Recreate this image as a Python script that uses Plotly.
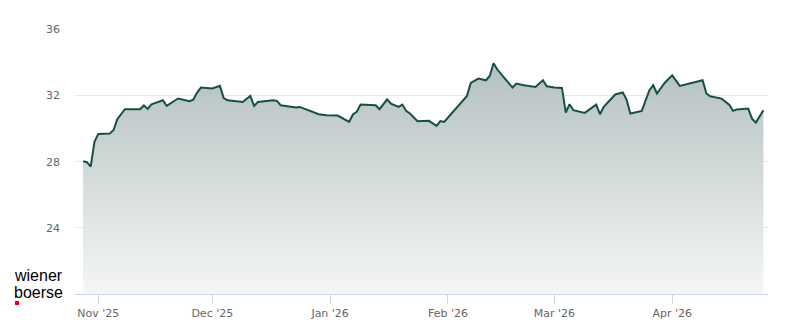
import plotly.graph_objects as go

dates = [
    "2025-10-28", "2025-10-29", "2025-10-30", "2025-10-31", "2025-11-01",
    "2025-11-04", "2025-11-05", "2025-11-06", "2025-11-08", "2025-11-12",
    "2025-11-13", "2025-11-14", "2025-11-15", "2025-11-18", "2025-11-19",
    "2025-11-20", "2025-11-22", "2025-11-25", "2025-11-26", "2025-11-27",
    "2025-11-28", "2025-12-01", "2025-12-03", "2025-12-04", "2025-12-05",
    "2025-12-09", "2025-12-11", "2025-12-12", "2025-12-13", "2025-12-17",
    "2025-12-18", "2025-12-19", "2025-12-23", "2025-12-24", "2025-12-29",
    "2025-12-31", "2026-01-03", "2026-01-06", "2026-01-07", "2026-01-08",
    "2026-01-09", "2026-01-13", "2026-01-14", "2026-01-16", "2026-01-17",
    "2026-01-19", "2026-01-20", "2026-01-21", "2026-01-22", "2026-01-24",
    "2026-01-27", "2026-01-29", "2026-01-30", "2026-01-31", "2026-02-02",
    "2026-02-04", "2026-02-06", "2026-02-07", "2026-02-09", "2026-02-11",
    "2026-02-12", "2026-02-13", "2026-02-14", "2026-02-16", "2026-02-18",
    "2026-02-19", "2026-02-21", "2026-02-24", "2026-02-26", "2026-02-27",
    "2026-03-01", "2026-03-03", "2026-03-04", "2026-03-05", "2026-03-06",
    "2026-03-09", "2026-03-12", "2026-03-13", "2026-03-14", "2026-03-17",
    "2026-03-19", "2026-03-20", "2026-03-21", "2026-03-24", "2026-03-26",
    "2026-03-27", "2026-03-28", "2026-03-30", "2026-04-01", "2026-04-03",
    "2026-04-07", "2026-04-09", "2026-04-10", "2026-04-11", "2026-04-14",
    "2026-04-16", "2026-04-17", "2026-04-18", "2026-04-21", "2026-04-22",
    "2026-04-23", "2026-04-25",
]

prices = [
    28.03, 27.97, 27.70, 29.20, 29.68,
    29.70, 29.90, 30.57, 31.17, 31.17,
    31.40, 31.19, 31.47, 31.71, 31.37,
    31.51, 31.82, 31.65, 31.75, 32.18,
    32.48, 32.42, 32.58, 31.85, 31.71,
    31.61, 31.97, 31.37, 31.61, 31.71,
    31.67, 31.41, 31.27, 31.31, 30.87,
    30.81, 30.79, 30.40, 30.85, 31.01,
    31.45, 31.41, 31.17, 31.77, 31.51,
    31.31, 31.45, 31.07, 30.91, 30.45,
    30.47, 30.16, 30.45, 30.40, 30.91,
    31.45, 31.97, 32.76, 33.02, 32.92,
    33.18, 33.95, 33.57, 33.02, 32.48,
    32.72, 32.62, 32.52, 32.92, 32.56,
    32.48, 32.46, 30.97, 31.47, 31.11,
    30.95, 31.45, 30.87, 31.31, 32.06,
    32.18, 31.75, 30.91, 31.07, 32.32,
    32.62, 32.12, 32.76, 33.22, 32.58,
    32.78, 32.92, 32.12, 31.95, 31.81,
    31.45, 31.07, 31.15, 31.21, 30.60,
    30.36, 31.11,
]

tick_dates = ["2025-11-01", "2025-12-01", "2026-01-01", "2026-02-01", "2026-03-01", "2026-04-01"]
tick_labels = ["Nov '25", "Dec '25", "Jan '26", "Feb '26", "Mar '26", "Apr '26"]
y_ticks = [24, 28, 32, 36]

fig = go.Figure()
fig.add_trace(go.Scatter(
    x=dates, y=prices, mode="lines",
    line=dict(color="#174f48", width=2),
    fill="tozeroy",
    fillgradient=dict(type="vertical", start=20, stop=34,
                      colorscale=[[0, "#f5f6f6"], [1, "#b3c0bf"]]),
    hoverinfo="skip", showlegend=False,
))

fig.update_layout(
    width=800, height=324,
    margin=dict(l=75, r=32, t=29, b=30),
    paper_bgcolor="white", plot_bgcolor="white",
    font=dict(family="DejaVu Sans", size=11, color="#666666"),
    xaxis=dict(
        type="date", automargin=False,
        range=["2025-10-25 21:00", "2026-04-26 05:00"],
        tickvals=tick_dates, ticktext=tick_labels,
        showgrid=False, zeroline=False,
        showline=True, linecolor="#ccd6eb", linewidth=1,
        ticks="outside", ticklen=9, tickcolor="#ccd6eb", tickwidth=1,
        tickfont=dict(family="DejaVu Sans", size=11, color="#666666"),
    ),
    yaxis=dict(
        automargin=False,
        range=[20, 36.02],
        tickvals=y_ticks, ticktext=[str(v) for v in y_ticks],
        showgrid=True, gridcolor="#e6e6e6", gridwidth=1,
        zeroline=False, showline=False, ticks="",
        ticklabelstandoff=14,
        tickfont=dict(family="DejaVu Sans", size=11, color="#666666"),
    ),
)

fig.add_annotation(text="wiener", xref="paper", yref="paper",
                   x=-0.089, y=0.068, xanchor="left", yanchor="middle",
                   showarrow=False, borderpad=0,
                   font=dict(family="Liberation Sans", size=16, color="#000000"))
fig.add_annotation(text="boerse", xref="paper", yref="paper",
                   x=-0.089, y=0.007, xanchor="left", yanchor="middle",
                   showarrow=False, borderpad=0,
                   font=dict(family="Liberation Sans", size=16, color="#000000"))
fig.add_shape(type="rect", xref="paper", yref="paper",
              x0=-0.0866, x1=-0.0808, y0=-0.0415, y1=-0.0264,
              fillcolor="#e2001a", line=dict(width=0))

fig.write_html("out.html")
